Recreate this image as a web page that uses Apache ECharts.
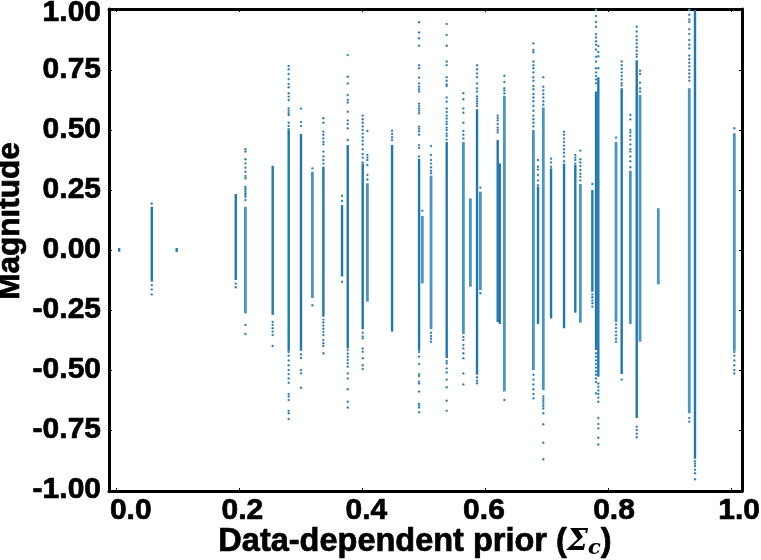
<!DOCTYPE html>
<html><head><meta charset="utf-8">
<style>html,body{margin:0;padding:0;background:#fff}#c{width:761px;height:560px}</style>
<script src="https://cdn.jsdelivr.net/npm/echarts@6/dist/echarts.min.js"></script></head>
<body><div id="c"></div>
<script>
const xTicks=[0,0.2,0.4,0.6,0.8,1.0];
const yTicks=[-1,-0.75,-0.5,-0.25,0,0.25,0.5,0.75,1];
const stripeX=[0.0055,0.0585,0.099,0.195,0.2107,0.255,0.281,0.301,0.3195,0.3374,0.3677,0.377,0.4013,0.4089,0.449,0.4929,0.4982,0.5123,0.5378,0.5649,0.5763,0.5871,0.5925,0.6207,0.624,0.6315,0.6787,0.6862,0.6948,0.7074,0.7285,0.7468,0.755,0.7745,0.7805,0.7842,0.813,0.8222,0.8362,0.8466,0.852,0.8817,0.932,0.9413,1.0052];
const stripeHigh=[0.008,0.18,0.008,0.233,0.18,0.351,0.5,0.483,0.326,0.347,0.187,0.437,0.36,0.278,0.4375,0.38,0.142,0.31,0.45,0.45,0.215,0.586,0.243,0.458,0.361,0.643,0.5,0.264,0.594,0.34,0.36,0.354,0.275,0.25,0.66,0.72,0.45,0.674,0.33,0.79,0.646,0.174,0.674,1.0,0.486];
const stripeLow=[-0.007,-0.132,-0.008,-0.125,-0.264,-0.27,-0.42,-0.42,-0.2,-0.278,-0.11,-0.41,-0.33,-0.215,-0.34,-0.42,-0.139,-0.33,-0.45,-0.35,-0.153,-0.52,-0.167,-0.3,-0.308,-0.59,-0.5,-0.308,-0.583,-0.285,-0.326,-0.261,-0.303,-0.174,-0.417,-0.528,-0.3,-0.517,-0.308,-0.7,-0.382,-0.143,-0.68,-0.87,-0.42];
const lightStripes=[4,8,13,16,17,19,20,22,25,26,28,32,36,38,40,41,42,44];
const stripePoints=[
[],
[0.194,-0.146,-0.164,-0.185],
[],
[-0.14,-0.155],
[0.42,0.41,0.378,0.361,0.343,0.326,0.308,0.299,0.264,0.257,0.25,0.243,0.236,0.229,0.222,0.208,-0.312,-0.35],
[-0.3,-0.312,-0.326,-0.34,-0.354,-0.4],
[0.767,0.753,0.733,0.712,0.692,0.678,0.653,0.639,0.625,0.59,0.58,0.57,0.562,0.53,0.517,0.503,-0.425,-0.44,-0.46,-0.48,-0.5,-0.517,-0.535,-0.553,-0.6,-0.61,-0.625,-0.67,-0.68,-0.704],
[0.589,0.533,0.517,-0.435,-0.45,-0.5,-0.514,-0.574],
[0.34,-0.23],
[0.549,0.53,0.493,0.48,0.465,0.45,0.44,0.41,0.39,0.375,0.36,-0.29,-0.302,-0.315,-0.328,-0.341,-0.354,-0.375,-0.388,-0.4,-0.43],
[0.226,0.204,-0.132],
[0.812,0.722,0.694,0.646,0.625,0.614,0.576,0.54,0.525,0.507,0.458,-0.417,-0.431,-0.445,-0.458,-0.472,-0.486,-0.514,-0.535,-0.58,-0.632,-0.656],
[0.56,0.545,0.53,0.515,0.5,0.485,0.47,0.455,0.44,0.42,0.4,0.385,0.365,-0.345,-0.36,-0.368,-0.41,-0.424,-0.451,-0.48,-0.496],
[0.496,0.396,0.385,0.375,0.354,0.3125,0.294],
[0.497,0.483,0.47,0.458],
[0.949,0.906,0.882,0.851,0.77,0.757,0.718,0.694,0.68,0.67,0.66,0.61,0.6,0.59,0.58,0.57,0.514,0.505,0.495,0.48,0.437,0.425,0.39,-0.425,-0.444,-0.475,-0.517,-0.525,-0.549,-0.556,-0.59,-0.64,-0.648,-0.656,-0.676],
[0.164],
[0.433,0.396,0.375,0.36,0.345,0.33,0.32,-0.345,-0.358,-0.37,-0.382],
[0.942,0.896,0.851,0.785,0.77,0.72,0.705,0.69,0.683,0.636,0.618,0.59,0.575,0.56,0.548,0.535,0.525,0.51,0.5,0.485,0.475,0.46,-0.462,-0.472,-0.493,-0.51,-0.54,-0.572,-0.628,-0.67],
[0.653,0.628,0.59,0.572,0.53,0.496,0.48,0.465,-0.362,-0.375,-0.396,-0.41,-0.43,-0.451,-0.514,-0.56],
[],
[0.77,0.753,0.736,0.72,0.694,0.674,0.66,0.64,0.63,0.62,0.61,0.6,-0.53,-0.545,-0.555],
[0.26,-0.18],
[0.56,0.55,0.54,0.525,0.51,0.5,0.49],
[],
[0.726,0.7,0.674,0.665,0.653,-0.625],
[0.861,0.833,0.824,0.785,0.77,0.757,0.74,0.72,0.705,0.683,0.67,0.65,0.635,0.62,0.6,0.58,0.56,0.545,0.53,0.515,-0.52,-0.54,-0.56,-0.58,-0.6,-0.618],
[0.375,0.347,0.335,0.3125,0.29,0.27],
[0.72,0.68,0.665,0.65,0.635,0.62,0.605,-0.61,-0.62,-0.63,-0.64,-0.65,-0.66,-0.68,-0.726,-0.803,-0.872],
[0.38,0.365,0.347],
[0.493,0.48,0.465,0.45,0.435,0.42,0.405,0.39,0.37],
[0.396,0.385,0.375,0.36],
[0.414,0.378,0.365,0.35,0.333,0.318,0.305,0.29],
[0.275,-0.185,-0.197,-0.21,-0.222,-0.236],
[1.0,0.975,0.95,0.93,0.9,0.885,0.87,0.855,0.835,0.805,0.785,0.757,0.74,0.725,0.71,0.695,-0.43,-0.445,-0.46,-0.475,-0.49,-0.505,-0.52,-0.535,-0.55,-0.597],
[0.85,0.825,0.807,0.757,-0.556,-0.57,-0.585,-0.6,-0.615,-0.632,-0.7,-0.725,-0.743,-0.782,-0.81],
[0.468,-0.31,-0.325,-0.34,-0.355,-0.37,-0.382],
[0.785,0.77,0.755,0.74,0.725,0.71,0.695,0.685,-0.54],
[0.5625,0.544,0.5,0.49,0.475,0.46,0.44,0.42,0.41,0.39,0.37,0.345],
[0.93,0.91,0.89,0.875,0.86,0.845,0.83,0.815,0.805,-0.736,-0.75,-0.765,-0.78],
[0.747,0.733,0.697,0.674,0.66],
[],
[1.0,0.98,0.96,0.95,0.92,0.9,0.875,0.855,0.84,0.81,0.795,0.78,0.765,0.75,0.735,0.72,0.705,-0.7,-0.715],
[-0.88,-0.89,-0.9,-0.915,-0.93,-0.955],
[0.507,-0.425,-0.44,-0.46,-0.48,-0.5,-0.514]
];
const xAxisName='Data-dependent prior (';
const yAxisName='Magnitude';
const blue='#1f77b4', lightBlue='#4a94c6';
const FONT='"Liberation Sans",Arial,sans-serif';
const heavy={textBorderColor:'#000',textBorderWidth:0.7};
const lbl={color:'#000',fontFamily:FONT,fontWeight:'bold',fontSize:30,...heavy};
const stripeData=stripeX.map((x,i)=>[x,stripeLow[i],stripeHigh[i],lightStripes.includes(i)?1:0]);
const pointData=[];
stripeX.forEach((x,i)=>stripePoints[i].forEach(v=>pointData.push([x,v])));
const xr={min:-0.011,max:1.0177}, yr={min:-1.004,max:1.004};
const tick={show:true,inside:true,length:3,lineStyle:{color:'#000',width:1}};
// the reference's x tick labels sit off their ticks by differing amounts
const xRich={l0:{...lbl,padding:[0,0,0,30]},l1:{...lbl,padding:[0,0,0,7]},l2:{...lbl,padding:[0,0,0,9]},l3:{...lbl,padding:[0,2,0,0]},l4:{...lbl,padding:[0,0,0,12]},l5:{...lbl,padding:[0,0,0,16]}};
const mkX=(pos,shown)=>({type:'value',position:pos,...xr,splitLine:{show:false},
  axisLine:{show:true,onZero:false,lineStyle:{color:'#000',width:3}},
  axisTick:{...tick,customValues:xTicks},
  axisLabel:shown?{show:true,customValues:xTicks,...lbl,margin:5,rich:xRich,formatter:v=>'{l'+Math.round(v*5)+'|'+v.toFixed(1)+'}'}:{show:false},
  ...(shown?{name:'{a|'+xAxisName+'}{s|Σ}{c|c}{a|)}',nameLocation:'middle',nameGap:35,nameMoveOverlap:false,
    nameTextStyle:{padding:[0,21,0,0],rich:{a:{fontFamily:FONT,fontWeight:'bold',fontSize:32.5,color:'#000',...heavy},
      s:{fontFamily:'"DejaVu Serif",serif',fontStyle:'italic',fontWeight:'bold',fontSize:30,color:'#000'},
      c:{fontFamily:'"DejaVu Serif",serif',fontStyle:'italic',fontWeight:'bold',fontSize:21,color:'#000',verticalAlign:'bottom',padding:[12,0,0,0]}}}}:{})});
const mkY=(pos,shown)=>({type:'value',position:pos,...yr,splitLine:{show:false},
  axisLine:{show:true,onZero:false,lineStyle:{color:'#000',width:3}},
  axisTick:{...tick,customValues:yTicks},
  axisLabel:shown?{show:true,customValues:yTicks,...lbl,margin:8,rich:{t:{...lbl,padding:[5,0,0,0]},n:{...lbl}},formatter:v=>'{'+(v===1?'t':'n')+'|'+v.toFixed(2)+'}'}:{show:false},
  ...(shown?{name:yAxisName,nameLocation:'middle',nameGap:83,nameMoveOverlap:false,nameTextStyle:{fontFamily:FONT,fontWeight:'bold',fontSize:31.5,color:'#000',padding:[0,0,0,58],...heavy}}:{})});
const chart=echarts.init(document.getElementById('c'),null,{renderer:'canvas'});
chart.setOption({animation:false,backgroundColor:'#fff',
  grid:{left:109,right:19,top:9,bottom:69,containLabel:false,outerBoundsMode:'none'},
  xAxis:[mkX('bottom',true),mkX('top',false)],
  yAxis:[mkY('left',true),mkY('right',false)],
  series:[
   {type:'custom',clip:true,data:stripeData,encode:{x:0,y:[1,2]},silent:true,
    renderItem:(p,api)=>{const a=api.coord([api.value(0),api.value(1)]),b=api.coord([api.value(0),api.value(2)]);
      const light=api.value(3)===1;
      return {type:'line',shape:{x1:a[0],y1:a[1],x2:b[0],y2:b[1]},style:{stroke:light?lightBlue:blue,lineWidth:light?2.8:2.4}};}},
   {type:'scatter',data:pointData,symbol:'circle',symbolSize:2.4,silent:true,clip:true,
    itemStyle:{color:blue,borderColor:'#fff',borderWidth:0.2,opacity:1}}
  ]});
</script></body></html>
